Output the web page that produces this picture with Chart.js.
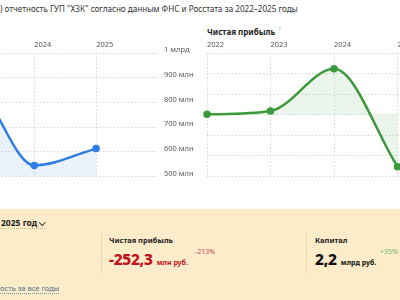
<!DOCTYPE html>
<html>
<head>
<meta charset="utf-8">
<script src="https://cdn.jsdelivr.net/npm/chart.js@4"></script>
<style>
  html, body { margin: 0; padding: 0; }
  body { width: 400px; height: 300px; overflow: hidden; position: relative; background: #fff;
         font-family: "Noto Sans", sans-serif; color: #222; }
  .abs { position: absolute; white-space: nowrap; }
  #title { left: 0; top: 3px; font-size: 8.1px; color: #333; }
  #profitTitle { left: 207px; top: 25px; font-size: 8px; font-weight: 700; }
  #profitTitle sup { color: #aaa; font-weight: 400; font-size: 6px; margin-left: 3px; }
  #revWrap { left: -96px; top: 32px; width: 300px; height: 151px; }
  #profWrap { left: 200px; top: 32px; width: 307px; height: 151px; }
  #panel { left: 0; top: 209px; width: 400px; height: 91px; background: #fcecc9; }
  .sep { position: absolute; top: 24px; width: 1px; height: 40px; background: #efd9a9; }
  .lbl { font-size: 7.5px; font-weight: 700; color: #222; }
  .big { font-size: 15.5px; font-weight: 800; letter-spacing: -0.3px; }
  .unit { font-size: 7px; font-weight: 700; }
  .pct { font-size: 7px; }
  .chev { display: inline-block; width: 3.5px; height: 3.5px; border-right: 1.2px solid #333; border-bottom: 1.2px solid #333;
          transform: rotate(45deg); margin-left: 3px; position: relative; top: -2px; }
</style>
</head>
<body>
<div id="title" class="abs">) отчетность ГУП "ХЗК" согласно данным ФНС и Росстата за 2022–2025 годы</div>
<div id="profitTitle" class="abs">Чистая прибыль<sup>?</sup></div>
<div id="revWrap" class="abs"><canvas id="rev"></canvas></div>
<div id="profWrap" class="abs"><canvas id="prof"></canvas></div>

<div id="panel" class="abs">
  <div class="abs" style="left:1px; top:8px; font-size:8.5px; font-weight:700; border-bottom:1px dotted #c9b68c;">2025 год<span class="chev"></span></div>
  <div class="sep" style="left:101px;"></div>
  <div class="sep" style="left:306px;"></div>
  <div class="abs lbl" style="left:109px; top:26px;">Чистая прибыль</div>
  <div class="abs" style="left:109px; top:39px; color:#c2111d;"><span class="big">-252,3</span> <span class="unit">млн руб.</span></div>
  <div class="abs pct" style="left:195px; top:38px; color:#c7474d;">-213%</div>
  <div class="abs lbl" style="left:315px; top:26px;">Капитал</div>
  <div class="abs" style="left:315px; top:39px; color:#111;"><span class="big">2,2</span> <span class="unit">млрд руб.</span></div>
  <div class="abs pct" style="left:380px; top:38px; color:#6cbb6c;">+35%</div>
  <div class="abs" style="left:0; top:74px; font-size:7.5px; color:#4d6e8e; border-bottom:1px dotted #7a93ad;">ость за все годы</div>
</div>

<script>
// categories (last slot left empty, the plot keeps one free column on the right)
const years = ['2022', '2023', '2024', '2025', ''];

// выручка, млн руб. (2022–2023 are off the visible part, estimated)
const revenue = [760, 860, 545, 613];
// чистая прибыль, млн руб.
const profit = [2, 18, 223, -252.3];

// tick labels
const revTickLabels = ['500 млн', '600 млн', '700 млн', '800 млн', '900 млн', '1 млрд'];
const profTickLabels = ['-300 млн', '-200 млн', '-100 млн', '0', '100 млн', '200 млн', '300 млн'];

const gridColor = '#d6d6d6';
const tickFont = { family: 'Noto Sans', size: 7.5 };

function xScale() {
  return {
    position: 'top',
    offset: false,
    border: { display: false, dash: [1.5, 2] },
    grid: {
      color: ctx => ctx.index < 4 ? gridColor : 'rgba(0,0,0,0)',
      drawTicks: false
    },
    ticks: { align: 'start', padding: 4, color: '#555', font: tickFont, maxRotation: 0, autoSkip: false },
    afterFit: s => { s.height = 21; s.paddingLeft = 0; s.paddingRight = 0; }
  };
}

function yScale(min, max, labels) {
  return {
    position: 'right',
    min: min,
    max: max,
    border: { display: false, dash: [1.5, 2] },
    grid: { color: gridColor, drawTicks: false },
    ticks: {
      stepSize: 100,
      padding: 6,
      labelOffset: -3,
      color: '#5a5a5a',
      font: tickFont,
      callback: (v, i) => labels[i]
    },
    afterFit: s => { s.width = 46; s.paddingTop = 0; s.paddingBottom = 0; }
  };
}

function lineOpts(yOpts, padLeft) {
  return {
    responsive: true,
    maintainAspectRatio: false,
    animation: false,
    events: [],
    layout: { padding: { left: padLeft, bottom: 3, top: 0, right: 0 } },
    plugins: { legend: { display: false }, tooltip: { enabled: false } },
    scales: { x: xScale(), y: yOpts }
  };
}

new Chart(document.getElementById('rev'), {
  type: 'line',
  data: {
    labels: years,
    datasets: [{
      data: revenue,
      borderColor: '#2f7de6',
      backgroundColor: 'rgba(47,125,230,0.1)',
      pointBackgroundColor: '#2f7de6',
      pointBorderColor: '#2f7de6',
      pointRadius: 2.5,
      borderWidth: 2.5,
      fill: 'start',
      cubicInterpolationMode: 'monotone'
    }]
  },
  options: lineOpts(yScale(500, 1000, revTickLabels), 0)
});

new Chart(document.getElementById('prof'), {
  type: 'line',
  data: {
    labels: years,
    datasets: [{
      data: profit,
      borderColor: '#3b9a3b',
      backgroundColor: 'rgba(59,154,59,0.1)',
      pointBackgroundColor: '#3b9a3b',
      pointBorderColor: '#3b9a3b',
      pointRadius: 2.5,
      borderWidth: 2.5,
      fill: 'origin',
      cubicInterpolationMode: 'monotone'
    }]
  },
  options: lineOpts(yScale(-300, 300, profTickLabels), 7)
});
</script>
</body>
</html>
